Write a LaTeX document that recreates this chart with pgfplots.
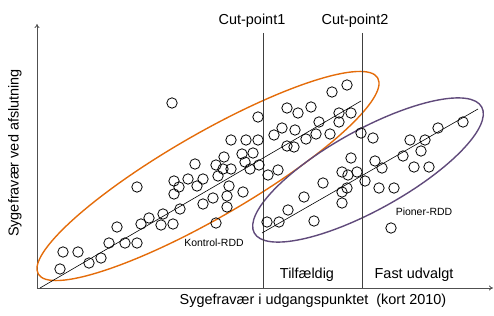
\documentclass[border=0pt]{standalone}
\usepackage{pgfplots}
\pgfplotsset{compat=1.18}
\usetikzlibrary{arrows.meta}
\usepackage{fontspec}
\setmainfont{Liberation Sans}
\definecolor{ora}{RGB}{228,108,10}
\definecolor{pur}{RGB}{96,74,123}
\definecolor{axg}{RGB}{80,80,80}
\begin{document}
\begin{tikzpicture}
\begin{axis}[
  scale only axis, width=456bp, height=264bp,
  xmin=37, xmax=493, ymin=28, ymax=292,
  axis lines=left, axis line style={axg, line width=0.8pt, -{To[length=4pt,width=5pt,open]}},
  xtick=\empty, ytick=\empty, clip=false,
]
\path (axis cs:0,0) rectangle (axis cs:494,316);
% orange ellipse
\draw[ora, line width=1.4pt, rotate around={30:(axis cs:208,140)}] (axis cs:208,140) ellipse [x radius=196bp, y radius=42bp];
% purple ellipse
\draw[pur, line width=1.4pt, rotate around={29:(axis cs:368,146)}] (axis cs:368,146) ellipse [x radius=130bp, y radius=40bp];
% cut-point lines
\addplot[black!75, line width=0.8pt] coordinates {(263,283) (263,28)};
\addplot[black!75, line width=0.8pt] coordinates {(362,283) (362,28)};
% regression lines
\addplot[black, line width=0.6pt] coordinates {(40,28) (361,215)};
\addplot[black, line width=0.6pt] coordinates {(262,83) (478,207)};
% control points
\addplot[only marks, mark=o, mark size=5.2bp, mark options={black, line width=0.8pt}] coordinates {
(172,213) (258,199) (231,176) (246,176) (258,176) (224,159) (242,162) (253,163)
(245,154) (216,151) (223,147) (231,147) (250,147) (259,151) (195,152) (218,140)
(174,135) (188,137) (203,137) (179,129) (197,130) (174,122) (137,129) (229,130)
(180,107) (203,112) (213,118) (227,120) (227,109) (163,102) (149,98) (141,92)
(161,91) (173,92) (216,93) (117,89) (109,73) (125,73) (137,73) (63,64) (78,64)
(89,53) (101,58) (60,47)
(347,231) (332,224) (287,208) (298,203) (311,209) (339,203) (351,203) (339,194)
(319,194) (274,181) (282,188) (295,186) (316,182) (330,182) (306,177) (287,170)
(294,169) (268,141) (278,146) (243,124)
};
% pioneer points
\addplot[only marks, mark=o, mark size=5.2bp, mark options={black, line width=0.8pt}] coordinates {
(267,94) (279,94) (288,106) (304,119) (314,95) (323,133) (342,144) (342,124)
(342,113) (347,128) (351,158) (348,141) (357,144) (365,135) (361,183) (373,178)
(375,155) (382,148) (379,128) (394,128) (403,160) (410,176) (425,176) (421,165)
(414,149) (429,149) (438,188) (463,194) (391,88)
};
% texts
\node[font=\fontsize{14.5}{16}\selectfont] at (axis cs:252,295) {Cut-point1};
\node[font=\fontsize{14.5}{16}\selectfont] at (axis cs:355,295) {Cut-point2};
\node[font=\fontsize{14.5}{16}\selectfont] at (axis cs:307,41) {Tilfældig};
\node[font=\fontsize{14.5}{16}\selectfont] at (axis cs:414,41) {Fast udvalgt};
\node[font=\fontsize{14.5}{16}\selectfont] at (axis cs:313,15) {Sygefravær i udgangspunktet\ \ (kort 2010)};
\node[font=\fontsize{14.5}{16}\selectfont, rotate=90] at (axis cs:15,163) {Sygefravær ved afslutning};
\node[font=\fontsize{10.5}{12}\selectfont] at (axis cs:214,73) {Kontrol-RDD};
\node[font=\fontsize{10.5}{12}\selectfont] at (axis cs:424,104) {Pioner-RDD};
\end{axis}
\end{tikzpicture}
\end{document}
